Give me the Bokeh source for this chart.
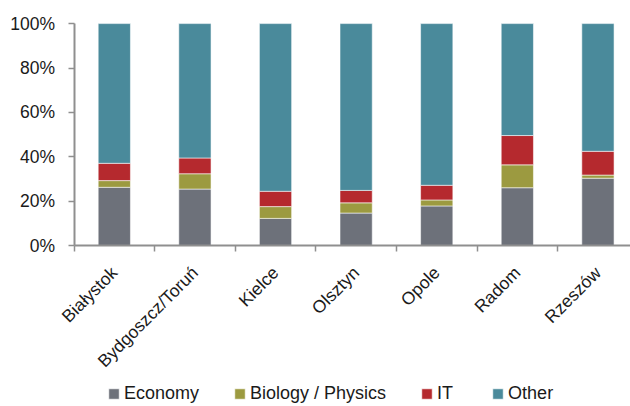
import math
from bokeh.plotting import figure
from bokeh.models import (ColumnDataSource, FixedTicker, Range1d, Legend,
                          LegendItem, PrintfTickFormatter)
from bokeh.embed import file_html
from bokeh.resources import INLINE

cities = ["Białystok", "Bydgoszcz/Toruń", "Kielce", "Olsztyn", "Opole", "Radom", "Rzeszów"]
economy = [26.3, 25.5, 12.3, 14.7, 17.9, 26.1, 30.4]
biology = [3.0, 6.9, 5.3, 4.6, 2.7, 10.3, 1.4]
it_share = [7.8, 7.1, 6.9, 5.6, 6.6, 13.2, 10.7]
other = [62.9, 60.5, 75.5, 75.1, 72.8, 50.4, 57.5]
series_names = ["Economy", "Biology / Physics", "IT", "Other"]
series_colors = ["#6D717A", "#9C9A40", "#B5292E", "#4A8A9B"]
y_ticks = [0, 20, 40, 60, 80, 100]

FONT = "Liberation Sans"
AXIS_COLOR = "#8f8f8f"

xs = list(range(len(cities)))
source = ColumnDataSource(dict(x=xs, economy=economy, biology=biology,
                               it=it_share, other=other))

# the frame spans the whole page; both axes are pinned at the data origin
p = figure(width=630, height=406, output_backend="svg", toolbar_location=None,
           x_range=Range1d(-1.412, 6.404), y_range=Range1d(-72.4, 110.4),
           min_border_left=0, min_border_right=0, min_border_top=0,
           min_border_bottom=0)
p.outline_line_color = None
p.xgrid.visible = False
p.ygrid.visible = False

renderers = p.vbar_stack(["economy", "biology", "it", "other"], x="x", width=0.4,
                         color=series_colors, source=source,
                         line_color="white", line_alpha=0.55, line_width=1)

# y axis
p.yaxis.fixed_location = -0.5
p.yaxis.ticker = FixedTicker(ticks=y_ticks, minor_ticks=[])
p.yaxis.bounds = (0, 100)
p.yaxis.formatter = PrintfTickFormatter(format="%d%%")
p.yaxis.axis_line_color = AXIS_COLOR
p.yaxis.axis_line_width = 2
p.yaxis.major_tick_line_color = AXIS_COLOR
p.yaxis.major_tick_line_width = 1.5
p.yaxis.major_tick_out = 6
p.yaxis.major_tick_in = 0
p.yaxis.minor_tick_line_color = None
p.yaxis.major_label_standoff = 13
p.yaxis.major_label_text_font = FONT
p.yaxis.major_label_text_font_size = "17.5px"
p.yaxis.major_label_text_color = "#1a1a1a"

# x axis (category boundaries get tick marks, labels sit under the bars)
boundaries = [i - 0.5 for i in range(len(cities) + 1)]
p.xaxis.fixed_location = 0
p.xaxis.bounds = (-0.5, 6.404)
p.xaxis.ticker = FixedTicker(ticks=xs, minor_ticks=boundaries)
p.xaxis.major_label_overrides = {i: c for i, c in zip(xs, cities)}
p.xaxis.major_label_orientation = math.pi / 4
p.xaxis.axis_line_color = AXIS_COLOR
p.xaxis.axis_line_width = 2
p.xaxis.major_tick_line_color = None
p.xaxis.major_tick_out = 0
p.xaxis.major_tick_in = 0
p.xaxis.minor_tick_line_color = AXIS_COLOR
p.xaxis.minor_tick_line_width = 1.5
p.xaxis.minor_tick_out = 6
p.xaxis.minor_tick_in = 0
p.xaxis.major_label_standoff = 18
p.xaxis.major_label_text_font = FONT
p.xaxis.major_label_text_font_size = "17.5px"
p.xaxis.major_label_text_color = "#1a1a1a"

legend = Legend(items=[LegendItem(label=n, renderers=[r]) for n, r in zip(series_names, renderers)],
                orientation="horizontal", location=(107, 2),
                padding=0, margin=0, spacing=34, label_standoff=4,
                glyph_width=13, glyph_height=13,
                border_line_alpha=0, background_fill_alpha=0,
                label_text_font=FONT, label_text_font_size="18px",
                label_text_color="#1a1a1a")
p.add_layout(legend, "center")

open("out.html", "w").write(file_html(p, INLINE))
